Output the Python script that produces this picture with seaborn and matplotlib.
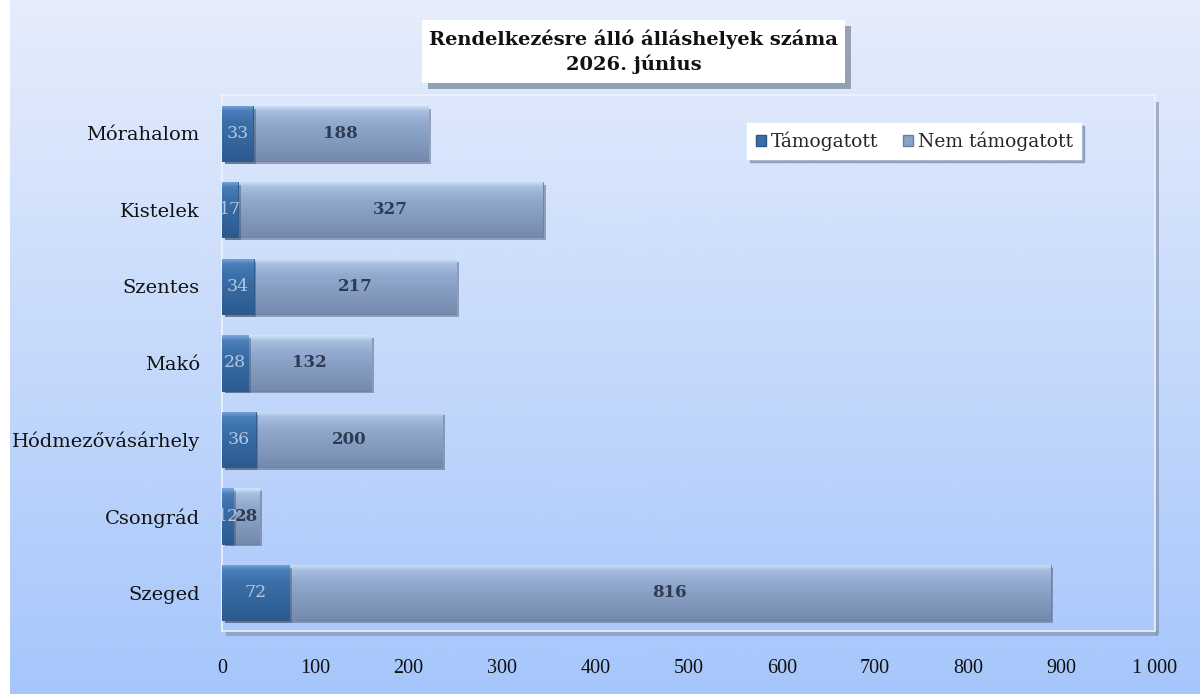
import numpy as np
import pandas as pd
import matplotlib.pyplot as plt
import matplotlib.patheffects as pe
from matplotlib.patches import Rectangle, Patch
from matplotlib.colors import LinearSegmentedColormap
import seaborn as sns

# Adatok
telepulesek = ['Mórahalom', 'Kistelek', 'Szentes', 'Makó', 'Hódmezővásárhely', 'Csongrád', 'Szeged']
tamogatott = [33, 17, 34, 28, 36, 12, 72]
nem_tamogatott = [188, 327, 217, 132, 200, 28, 816]
x_ticks = [0, 100, 200, 300, 400, 500, 600, 700, 800, 900, 1000]
x_tick_labels = ['0', '100', '200', '300', '400', '500', '600', '700', '800', '900', '1 000']

df = pd.DataFrame({'telepules': telepulesek, 'tam': tamogatott, 'nem': nem_tamogatott})
df['ossz'] = df['tam'] + df['nem']

sns.set_theme(style='white')
plt.rcParams['font.family'] = ['DejaVu Serif']

fig = plt.figure(figsize=(12, 6.94), dpi=100)

# háttér színátmenet
grad = np.linspace(0, 1, 256).reshape(-1, 1)
bg = fig.add_axes([0.008, 0, 0.992, 1], zorder=-10)
bg_cmap = LinearSegmentedColormap.from_list('bg', ['#e6edfb', '#a6c6fb'])
bg.imshow(grad, aspect='auto', cmap=bg_cmap, extent=[0, 1, 0, 1], origin='upper')
bg.axis('off')

ax = fig.add_axes([0.185, 0.091, 0.7775, 0.772])
ax.set_facecolor('none')

# panel szegély + árnyék
panel = Rectangle((0, 0), 1, 1, transform=ax.transAxes, facecolor='none', edgecolor='#eef3fd',
                  lw=1.2, zorder=0.5, clip_on=False)
ax.add_patch(panel)
sh_r = Rectangle((1.0, -0.008), 0.0045, 1.0 - 0.005, transform=ax.transAxes, facecolor='#8696b4',
                 edgecolor='none', alpha=0.7, zorder=0.4, clip_on=False)
sh_b = Rectangle((0.004, -0.009), 0.9995, 0.009, transform=ax.transAxes, facecolor='#8696b4',
                 edgecolor='none', alpha=0.7, zorder=0.4, clip_on=False)
ax.add_patch(sh_r)
ax.add_patch(sh_b)

sns.barplot(data=df, y='telepules', x='ossz', orient='h', color='#8aa2c6', width=0.72,
            saturation=1, edgecolor='#6a7f9f', linewidth=0.6, ax=ax, zorder=2)
sns.barplot(data=df, y='telepules', x='tam', orient='h', color='#3b6ea6', width=0.72,
            saturation=1, edgecolor='#2d5585', linewidth=0.6, ax=ax, zorder=3)

# domború hatás: színátmenet a hasábokon belül
bars = [p for p in ax.patches if p not in (panel, sh_r, sh_b)]
nem_cmap = LinearSegmentedColormap.from_list('nem', [(0, '#d0e6fa'), (0.1, '#a9bfe0'),
                                                     (0.3, '#93abd0'), (1, '#7489ae')])
tam_cmap = LinearSegmentedColormap.from_list('tam', [(0, '#80aad9'), (0.1, '#4b7fbb'),
                                                     (0.3, '#3c70aa'), (1, '#2b5a8f')])
for p in bars:
    cmap = tam_cmap if p.get_facecolor()[2] < 0.7 else nem_cmap
    x0, y0 = p.get_x(), p.get_y()
    w, h = p.get_width(), p.get_height()
    if w <= 0:
        continue
    im = ax.imshow(grad, aspect='auto', cmap=cmap, extent=[x0, x0 + w, y0 + h, y0],
                   origin='upper', zorder=p.get_zorder() + 0.1)
    im.set_clip_path(p)
    p.set_path_effects([pe.SimplePatchShadow(offset=(2, -2), shadow_rgbFace='#42506a', alpha=0.45),
                        pe.Normal()])

# értékcímkék
for i, (t, n) in enumerate(zip(tamogatott, nem_tamogatott)):
    ax.text(t / 2, i, str(t), ha='center', va='center', fontsize=12.5, color='#b4c6e2', zorder=6)
    ax.text(t + n / 2, i, str(n), ha='center', va='center', fontsize=12, color='#2f3b52',
            fontweight='bold', zorder=6)

ax.set_xlim(0, 1000)
ax.set_ylim(6.5, -0.5)
ax.set_xticks(x_ticks)
ax.set_xticklabels(x_tick_labels, family='Liberation Serif')
ax.tick_params(axis='x', length=0, pad=20, labelsize=14.5, labelcolor='#111111')
ax.tick_params(axis='y', length=0, pad=16, labelsize=14, labelcolor='#111111')
ax.set_xlabel('')
ax.set_ylabel('')
for s in ['top', 'right', 'bottom', 'left']:
    ax.spines[s].set_visible(False)

# jelmagyarázat
handles = [Patch(facecolor='#3b6ea6', edgecolor='#2d5585', label='Támogatott'),
           Patch(facecolor='#8aa2c6', edgecolor='#6a7f9f', label='Nem támogatott')]
leg = ax.legend(handles=handles, loc='center', bbox_to_anchor=(0.742, 0.914), ncol=2, frameon=True,
                fancybox=False, shadow={'color': '#6f83a6', 'alpha': 0.6}, facecolor='white',
                edgecolor='white', fontsize=13.5, handlelength=0.55, handleheight=0.55,
                handletextpad=0.25, columnspacing=1.3, borderpad=0.45)
leg.set_zorder(10)

# cím doboz
title_box = Rectangle((0.352, 0.880), 0.3525, 0.091, transform=fig.transFigure, facecolor='white',
                      edgecolor='none', zorder=5)
title_box.set_path_effects([pe.SimplePatchShadow(offset=(4, -4), shadow_rgbFace='#55657f', alpha=0.55),
                            pe.Normal()])
fig.patches.append(title_box)
fig.text(0.5283, 0.9255, 'Rendelkezésre álló álláshelyek száma\n2026. június', ha='center', va='center',
         fontsize=14, fontweight='bold', color='#111111', linespacing=1.35, zorder=6)

plt.savefig('out.png', dpi=100)
